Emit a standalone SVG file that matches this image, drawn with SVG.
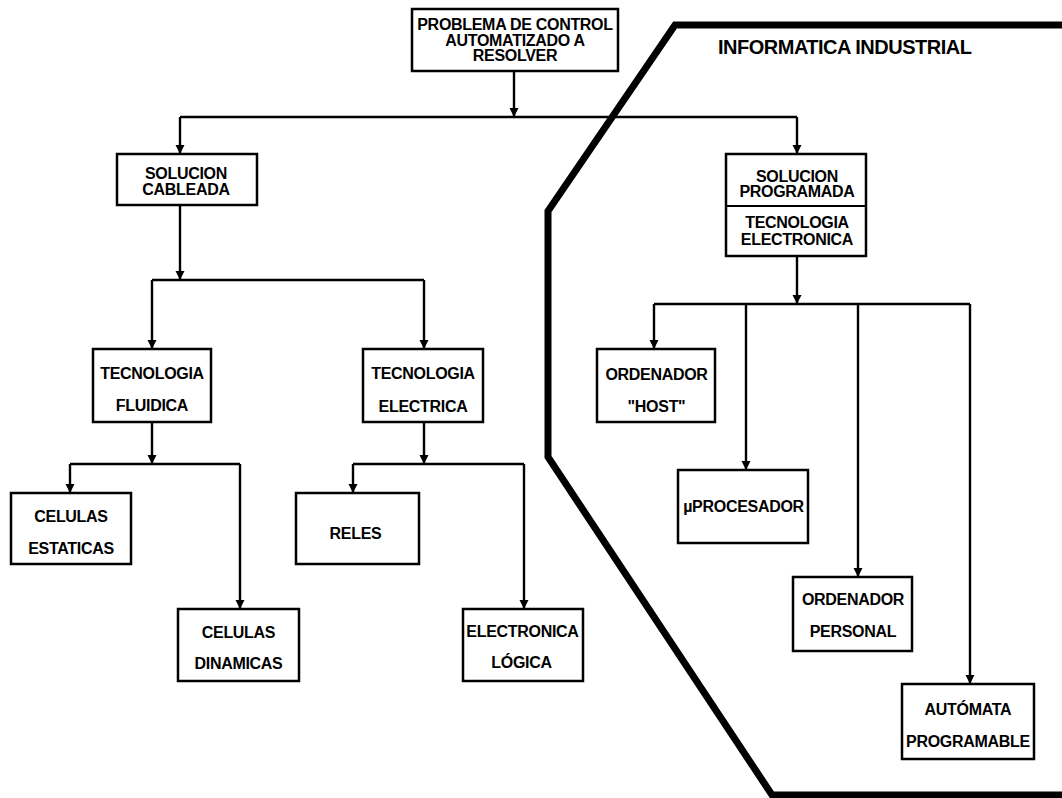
<svg xmlns="http://www.w3.org/2000/svg" width="1062" height="798" viewBox="0 0 1062 798">
  <defs>
    <marker id="arrow" viewBox="0 0 10 10" refX="10" refY="5" markerWidth="9" markerHeight="10" markerUnits="userSpaceOnUse" orient="auto">
      <path d="M0,0 L10,5 L0,10 Z" fill="#000"/>
    </marker>
    <style>
      .box { fill: #fff; stroke: #000; stroke-width: 2.5; }
      .lbl { font-family: "Liberation Sans", Arial, Helvetica, sans-serif; font-weight: bold; font-size: 16px; letter-spacing: -0.3px; fill: #000; text-anchor: middle; }
      .title { font-family: "Liberation Sans", Arial, Helvetica, sans-serif; font-weight: bold; font-size: 20px; letter-spacing: -0.5px; fill: #000; }
      .wire { fill: none; stroke: #000; stroke-width: 2.4; }
      .arr { fill: none; stroke: #000; stroke-width: 2.4; marker-end: url(#arrow); }
      .zone { fill: none; stroke: #000; stroke-width: 7; stroke-linejoin: miter; }
    </style>
  </defs>

  <rect width="1062" height="798" fill="#fff"/>

  <!-- Industrial computing zone boundary -->
  <g id="zone">
    <path class="zone" d="M1070,25 L675,25 L548,211 L548,457 L772,795 L1070,795"/>
    <text class="title" x="718" y="54">INFORMATICA INDUSTRIAL</text>
  </g>

  <!-- Connectors -->
  <g id="connectors">
    <path class="arr" d="M514,71 L514,117"/>
    <path class="wire" d="M180,117 L797,117"/>
    <path class="arr" d="M180,117 L180,154"/>
    <path class="arr" d="M797,117 L797,154"/>

    <path class="arr" d="M180,205 L180,280"/>
    <path class="wire" d="M152,280 L424,280"/>
    <path class="arr" d="M152,280 L152,349"/>
    <path class="arr" d="M424,280 L424,349"/>

    <path class="arr" d="M152,422 L152,464"/>
    <path class="wire" d="M70,464 L240,464"/>
    <path class="arr" d="M70,464 L70,493"/>
    <path class="arr" d="M240,464 L240,609"/>

    <path class="arr" d="M424,422 L424,464"/>
    <path class="wire" d="M353,464 L524,464"/>
    <path class="arr" d="M353,464 L353,493"/>
    <path class="arr" d="M524,464 L524,609"/>

    <path class="arr" d="M797,256 L797,304"/>
    <path class="wire" d="M654,304 L970,304"/>
    <path class="arr" d="M654,304 L654,349"/>
    <path class="arr" d="M746,304 L746,470"/>
    <path class="arr" d="M858,304 L858,577"/>
    <path class="arr" d="M970,304 L970,684"/>
  </g>

  <g id="problema">
    <rect class="box" x="412" y="9" width="206" height="62"/>
    <text class="lbl" x="515" y="30">PROBLEMA DE CONTROL</text>
    <text class="lbl" x="515" y="45.5">AUTOMATIZADO A</text>
    <text class="lbl" x="515" y="61">RESOLVER</text>
  </g>

  <g id="cableada">
    <rect class="box" x="117" y="154" width="140" height="51"/>
    <text class="lbl" x="186" y="179">SOLUCION</text>
    <text class="lbl" x="186" y="195">CABLEADA</text>
  </g>

  <g id="programada">
    <rect class="box" x="726" y="154" width="140" height="102"/>
    <line x1="726" y1="206" x2="866" y2="206" stroke="#000" stroke-width="2"/>
    <text class="lbl" x="797" y="182">SOLUCION</text>
    <text class="lbl" x="797" y="197">PROGRAMADA</text>
    <text class="lbl" x="797" y="228">TECNOLOGIA</text>
    <text class="lbl" x="797" y="245">ELECTRONICA</text>
  </g>

  <g id="fluidica">
    <rect class="box" x="93" y="349" width="118" height="73"/>
    <text class="lbl" x="152" y="379">TECNOLOGIA</text>
    <text class="lbl" x="152" y="411">FLUIDICA</text>
  </g>

  <g id="electrica">
    <rect class="box" x="363" y="349" width="120" height="73"/>
    <text class="lbl" x="423" y="379">TECNOLOGIA</text>
    <text class="lbl" x="423" y="412">ELECTRICA</text>
  </g>

  <g id="estaticas">
    <rect class="box" x="11" y="493" width="120" height="71"/>
    <text class="lbl" x="71" y="522">CELULAS</text>
    <text class="lbl" x="71" y="554">ESTATICAS</text>
  </g>

  <g id="dinamicas">
    <rect class="box" x="178" y="609" width="121" height="72"/>
    <text class="lbl" x="238.5" y="638">CELULAS</text>
    <text class="lbl" x="238.5" y="669">DINAMICAS</text>
  </g>

  <g id="reles">
    <rect class="box" x="296" y="493" width="123" height="71"/>
    <text class="lbl" x="355.5" y="539">RELES</text>
  </g>

  <g id="logica">
    <rect class="box" x="463" y="609" width="120" height="72"/>
    <text class="lbl" x="522.5" y="637">ELECTRONICA</text>
    <text class="lbl" x="521.5" y="668">LÓGICA</text>
  </g>

  <g id="host">
    <rect class="box" x="597" y="349" width="118" height="73"/>
    <text class="lbl" x="656.5" y="380">ORDENADOR</text>
    <text class="lbl" x="656.5" y="412">"HOST"</text>
  </g>

  <g id="microprocesador">
    <rect class="box" x="678" y="470" width="130" height="73"/>
    <text class="lbl" x="743.5" y="512">µPROCESADOR</text>
  </g>

  <g id="personal">
    <rect class="box" x="793" y="577" width="119" height="74"/>
    <text class="lbl" x="853" y="605">ORDENADOR</text>
    <text class="lbl" x="853" y="637">PERSONAL</text>
  </g>

  <g id="automata">
    <rect class="box" x="902" y="684" width="132" height="75"/>
    <text class="lbl" x="968" y="715">AUTÓMATA</text>
    <text class="lbl" x="968" y="747">PROGRAMABLE</text>
  </g>
</svg>
